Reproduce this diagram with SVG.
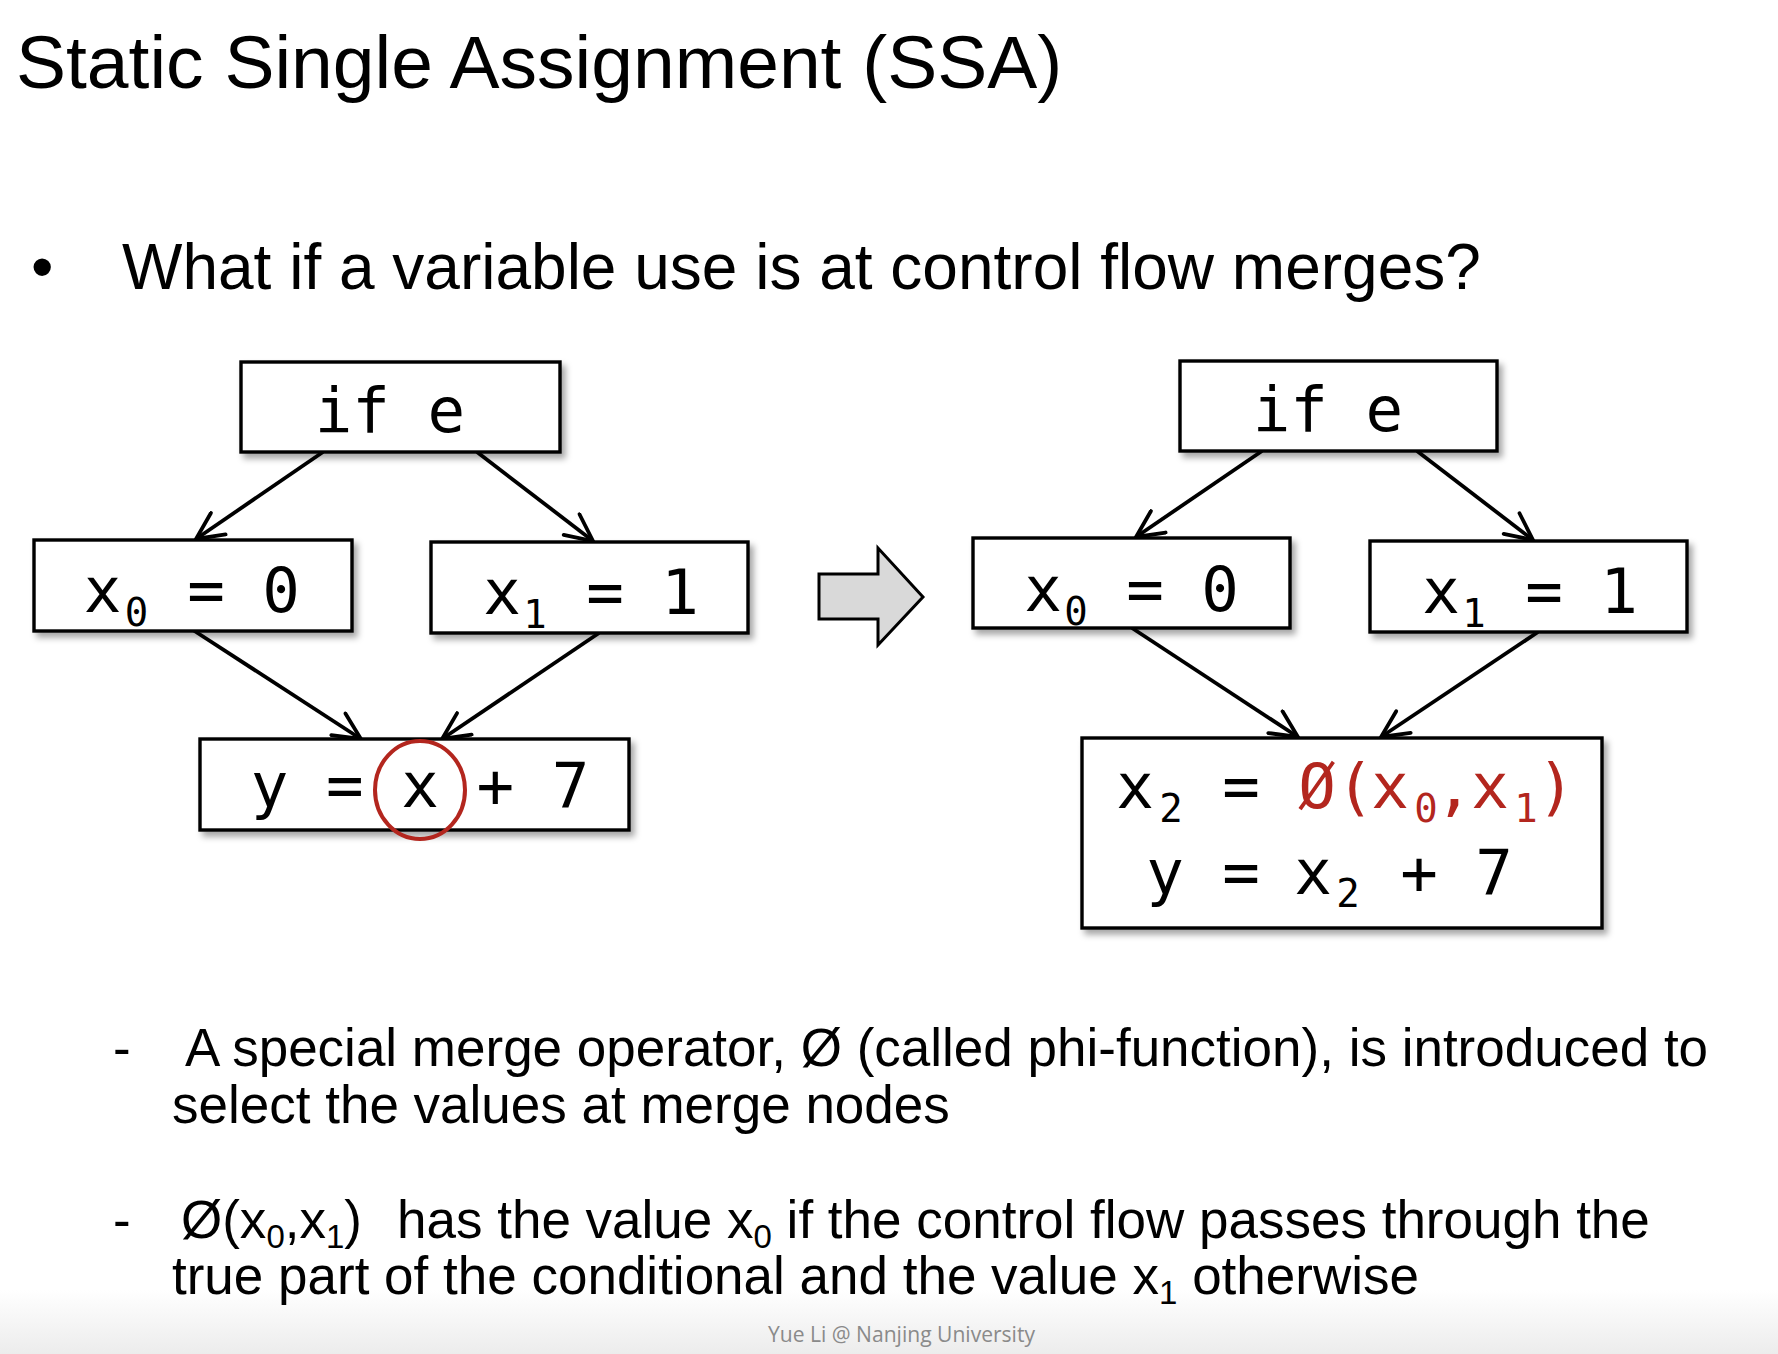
<svg xmlns="http://www.w3.org/2000/svg" width="1778" height="1354" viewBox="0 0 1778 1354">
<style>
.sans{font-family:"Liberation Sans",Arial,sans-serif;fill:#000}
.mono{font-family:"DejaVu Sans Mono","Liberation Mono",monospace;fill:#000;font-size:62.5px}
.mid{text-anchor:middle}
.sub{font-size:39px}
.red{fill:#b3261e}
.box{fill:#fff;stroke:#000;stroke-width:3.4;filter:url(#sh)}
.edge{fill:none;stroke:#000;stroke-width:3.8;marker-end:url(#ah)}
.body{font-size:53px}
.bsub{font-size:33px}
</style>
<defs>
<filter id="sh" x="-10%" y="-10%" width="130%" height="140%">
<feDropShadow dx="4" dy="5" stdDeviation="3" flood-color="#000" flood-opacity="0.35"/>
</filter>
<marker id="ah" markerUnits="userSpaceOnUse" viewBox="0 0 32 30" refX="30" refY="15" markerWidth="32" markerHeight="30" orient="auto">
<path d="M3,2 L30,15 L3,28" fill="none" stroke="#000" stroke-width="3.8" stroke-linecap="round" stroke-linejoin="miter"/>
</marker>
<linearGradient id="foot" x1="0" y1="0" x2="0" y2="1">
<stop offset="0" stop-color="#fff"/>
<stop offset="1" stop-color="#ececec"/>
</linearGradient>
</defs>
<rect x="0" y="0" width="1778" height="1354" fill="#fff"/>
<rect x="0" y="1290" width="1778" height="64" fill="url(#foot)"/>

<text class="sans" x="16" y="88" font-size="75">Static Single Assignment (SSA)</text>
<text class="sans" x="31" y="289" font-size="64">•</text>
<text class="sans" x="122" y="289" font-size="64">What if a variable use is at control flow merges?</text>

<g id="connectors">
<line class="edge" x1="323" y1="452" x2="196" y2="539"/>
<line class="edge" x1="477" y1="452" x2="593" y2="541"/>
<line class="edge" x1="193" y1="630" x2="361" y2="739"/>
<line class="edge" x1="599" y1="633" x2="442" y2="739"/>
<line class="edge" x1="1262" y1="451" x2="1136" y2="537"/>
<line class="edge" x1="1417" y1="451" x2="1533" y2="540"/>
<line class="edge" x1="1132" y1="628" x2="1298" y2="737"/>
<line class="edge" x1="1538" y1="632" x2="1381" y2="737"/>
</g>

<g id="L-if">
<rect class="box" x="241" y="362" width="319" height="90"/>
<text class="mono mid" x="390" y="432">if e</text>
</g>
<g id="L-x0">
<rect class="box" x="34" y="540" width="318" height="91"/>
<text class="mono mid"><tspan x="102.5" y="612">x</tspan><tspan class="sub" x="136.5" y="626">0</tspan><tspan x="206" y="612">=</tspan><tspan x="281" y="612">0</tspan></text>
</g>
<g id="L-x1">
<rect class="box" x="431" y="542" width="317" height="91"/>
<text class="mono mid"><tspan x="502" y="614">x</tspan><tspan class="sub" x="535" y="628">1</tspan><tspan x="605" y="614">=</tspan><tspan x="680" y="614">1</tspan></text>
</g>
<g id="L-y">
<rect class="box" x="200" y="739" width="429" height="91"/>
<text class="mono mid" x="420" y="807">y = x + 7</text>
<ellipse cx="420" cy="790" rx="45" ry="49" fill="none" stroke="#b3261e" stroke-width="4"/>
</g>

<g id="transform-arrow">
<polygon points="819,574 878,574 878,548 923,597 878,645 878,619 819,619" fill="#d9d9d9" stroke="#000" stroke-width="3" stroke-linejoin="miter"/>
</g>

<g id="R-if">
<rect class="box" x="1180" y="361" width="317" height="90"/>
<text class="mono mid" x="1328" y="431">if e</text>
</g>
<g id="R-x0">
<rect class="box" x="973" y="538" width="317" height="90"/>
<text class="mono mid"><tspan x="1043" y="611">x</tspan><tspan class="sub" x="1076" y="625">0</tspan><tspan x="1145" y="611">=</tspan><tspan x="1220" y="611">0</tspan></text>
</g>
<g id="R-x1">
<rect class="box" x="1370" y="541" width="317" height="91"/>
<text class="mono mid"><tspan x="1441" y="613">x</tspan><tspan class="sub" x="1474" y="627">1</tspan><tspan x="1544" y="613">=</tspan><tspan x="1619" y="613">1</tspan></text>
</g>
<g id="R-merge">
<rect class="box" x="1082" y="738" width="520" height="190"/>
<text class="mono mid"><tspan x="1135" y="808">x</tspan><tspan class="sub" x="1171" y="822">2</tspan><tspan x="1241" y="808">=</tspan><tspan class="red" x="1317" y="808">Ø</tspan><tspan class="red" x="1355" y="808">(</tspan><tspan class="red" x="1390" y="808">x</tspan><tspan class="red sub" x="1426" y="822">0</tspan><tspan class="red" x="1454" y="808">,</tspan><tspan class="red" x="1490" y="808">x</tspan><tspan class="red sub" x="1526" y="822">1</tspan><tspan class="red" x="1556" y="808">)</tspan></text>
<text class="mono mid"><tspan x="1165" y="894">y</tspan><tspan x="1241" y="894">=</tspan><tspan x="1313" y="894">x</tspan><tspan class="sub" x="1348" y="907">2</tspan><tspan x="1419" y="894">+</tspan><tspan x="1494" y="894">7</tspan></text>
</g>

<text class="sans body" x="113" y="1066">-</text>
<text class="sans body" x="185" y="1066">A special merge operator, Ø (called phi-function), is introduced to</text>
<text class="sans body" x="172" y="1123">select the values at merge nodes</text>
<text class="sans body" x="113" y="1238">-</text>
<text class="sans body" x="181" y="1238">Ø(x<tspan class="bsub" dy="10">0</tspan><tspan dy="-10">,x</tspan><tspan class="bsub" dy="10">1</tspan><tspan dy="-10">)</tspan></text>
<text class="sans body" x="397" y="1238">has the value x<tspan class="bsub" dy="10">0</tspan><tspan dy="-10"> if the control flow passes through the</tspan></text>
<text class="sans body" x="172" y="1294">true part of the conditional and the value x<tspan class="bsub" dy="10">1</tspan><tspan dy="-10"> otherwise</tspan></text>

<text x="768" y="1342" font-family="'Open Sans','Liberation Sans',sans-serif" font-size="22" fill="#8a8a8a" textLength="267" lengthAdjust="spacingAndGlyphs">Yue Li @ Nanjing University</text>
</svg>
